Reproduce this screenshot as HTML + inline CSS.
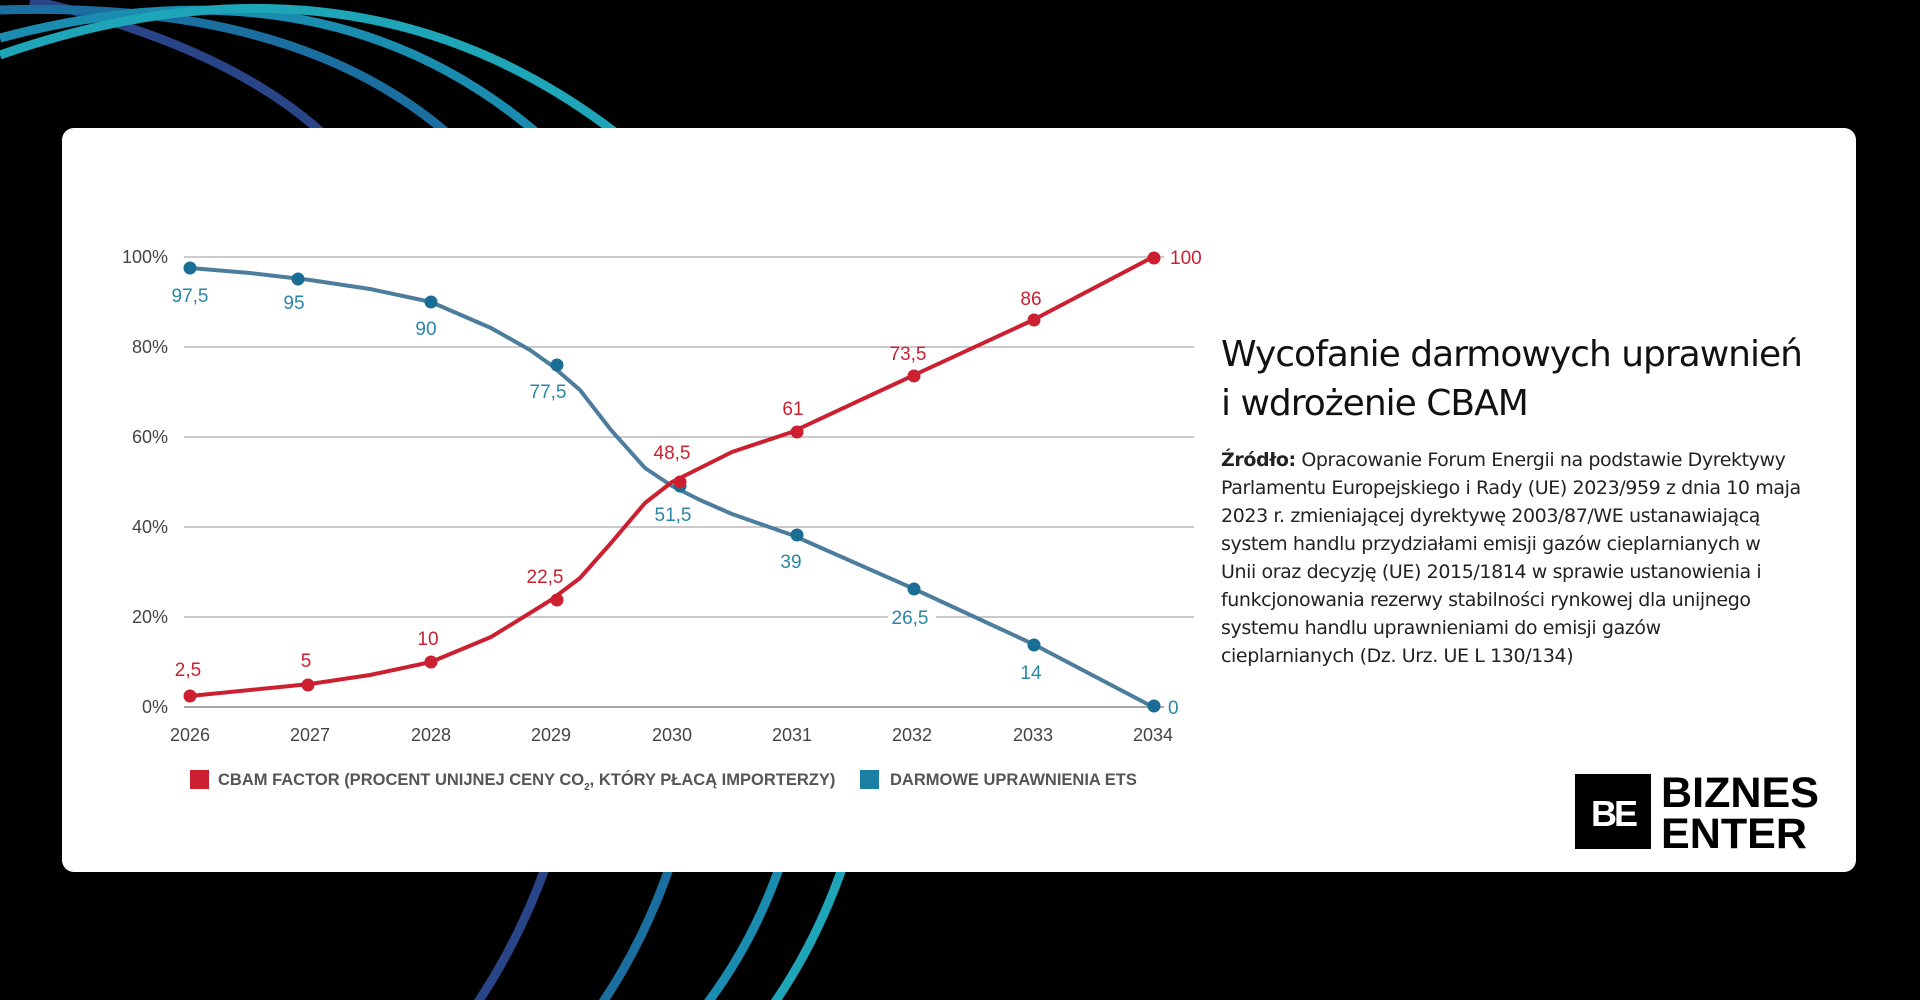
<!DOCTYPE html>
<html><head><meta charset="utf-8"><style>
html,body{margin:0;padding:0;background:#000;width:1920px;height:1000px;overflow:hidden;font-family:"Liberation Sans",sans-serif}
.card{position:absolute;left:62px;top:128px;width:1794px;height:744px;background:#fff;border-radius:12px}
.t{position:absolute;left:1221px;top:330px;font-size:36px;line-height:49px;color:#111;font-family:"DejaVu Sans","Liberation Sans",sans-serif;font-weight:normal;letter-spacing:-1px}
.b{position:absolute;left:1221px;top:446px;white-space:nowrap;font-size:19px;line-height:28px;color:#222;font-family:"DejaVu Sans","Liberation Sans",sans-serif;letter-spacing:-0.4px}
</style></head><body>
<svg width="1920" height="1000" style="position:absolute;left:0;top:0" fill="none" stroke-width="9">
<path d="M30 0 Q230 45 330 140" stroke="#2a4488"/>
<path d="M0 10 Q300 0 455 140" stroke="#1a6fa0"/>
<path d="M0 38 Q330 -50 545 140" stroke="#1a8cb0"/>
<path d="M0 55 Q360 -70 625 140" stroke="#1ea6b8"/>
<path d="M548 860 Q520 940 476 1005" stroke="#2a4488"/>
<path d="M672 860 Q645 940 601 1005" stroke="#1a6fa0"/>
<path d="M782 860 Q755 940 706 1005" stroke="#1a8cb0"/>
<path d="M845 860 Q818 940 773 1005" stroke="#1ea6b8"/>
</svg>
<div class="card"></div>
<svg width="1920" height="1000" style="position:absolute;left:0;top:0" font-family="Liberation Sans,sans-serif">
<g stroke="#aaa" stroke-width="1.2">
<line x1="184" x2="1194" y1="257" y2="257"/><line x1="184" x2="1194" y1="347" y2="347"/>
<line x1="184" x2="1194" y1="437" y2="437"/><line x1="184" x2="1194" y1="527" y2="527"/>
<line x1="184" x2="1194" y1="617" y2="617"/><line x1="184" x2="1194" y1="707" y2="707" stroke="#888" stroke-width="1.6"/>
</g>
<g font-size="18" fill="#444" text-anchor="end">
<text x="168" y="263">100%</text><text x="168" y="353">80%</text><text x="168" y="443">60%</text>
<text x="168" y="533">40%</text><text x="168" y="623">20%</text><text x="168" y="713">0%</text>
</g>
<g font-size="18" fill="#444" text-anchor="middle">
<text x="190" y="741">2026</text><text x="310" y="741">2027</text><text x="431" y="741">2028</text>
<text x="551" y="741">2029</text><text x="672" y="741">2030</text><text x="792" y="741">2031</text>
<text x="912" y="741">2032</text><text x="1033" y="741">2033</text><text x="1153" y="741">2034</text>
</g>
<polyline fill="none" stroke="#4d7d9c" stroke-width="4" stroke-linejoin="round" points="190,268 250,273 310,280 370,289 431,302 491,328 530,350 551,365 580,390 611,430 645,468 672,486 700,500 732,514 792,535 912,588 1033,644 1153,707"/>
<polyline fill="none" stroke="#cc1f30" stroke-width="4" stroke-linejoin="round" points="190,696 310,684 370,675 431,662 491,637 530,613 551,600 580,578 611,543 645,503 672,482 700,468 732,452 792,432 912,376 1033,320 1153,257"/>
<g fill="#1a6e96"><circle cx="190" cy="268" r="6.5"/><circle cx="298" cy="279" r="6.5"/><circle cx="431" cy="302" r="6.5"/><circle cx="557" cy="365" r="6.5"/><circle cx="680" cy="486" r="6.5"/><circle cx="797" cy="535" r="6.5"/><circle cx="914" cy="589" r="6.5"/><circle cx="1034" cy="645" r="6.5"/><circle cx="1154" cy="706" r="6.5"/></g>
<g fill="#cc1f30"><circle cx="190" cy="696" r="6.5"/><circle cx="308" cy="685" r="6.5"/><circle cx="431" cy="662" r="6.5"/><circle cx="557" cy="600" r="6.5"/><circle cx="680" cy="482" r="6.5"/><circle cx="797" cy="432" r="6.5"/><circle cx="914" cy="376" r="6.5"/><circle cx="1034" cy="320" r="6.5"/><circle cx="1154" cy="258" r="6.5"/></g>
<rect x="888" y="605" width="48" height="22" fill="#fff"/>
<rect x="1164" y="245" width="40" height="24" fill="#fff"/>
<rect x="1164" y="695" width="30" height="24" fill="#fff"/>
<g font-size="19" fill="#cc1f30" text-anchor="middle">
<text x="188" y="676">2,5</text><text x="306" y="667">5</text><text x="428" y="645">10</text>
<text x="545" y="583">22,5</text><text x="672" y="459">48,5</text><text x="793" y="415">61</text>
<text x="908" y="360">73,5</text><text x="1031" y="305">86</text><text x="1170" y="264" text-anchor="start">100</text>
</g>
<g font-size="19" fill="#2a86a6" text-anchor="middle">
<text x="190" y="302">97,5</text><text x="294" y="309">95</text><text x="426" y="335">90</text>
<text x="548" y="398">77,5</text><text x="673" y="521">51,5</text><text x="791" y="568">39</text>
<text x="910" y="624">26,5</text><text x="1031" y="679">14</text><text x="1168" y="714" text-anchor="start">0</text>
</g>
<rect x="190" y="770" width="19" height="19" fill="#cc1f30"/>
<rect x="860" y="770" width="19" height="19" fill="#1a7fa3"/>
<g font-size="16.5" font-weight="bold" fill="#555">
<text x="218" y="785">CBAM FACTOR (PROCENT UNIJNEJ CENY CO<tspan font-size="10" dy="5">2</tspan><tspan dy="-5">, KTÓRY PŁACĄ IMPORTERZY)</tspan></text>
<text x="890" y="785">DARMOWE UPRAWNIENIA ETS</text>
</g>
<rect x="1575" y="774" width="76" height="75" fill="#000"/>
<text x="1613" y="826" font-size="36" font-weight="bold" fill="#fff" text-anchor="middle" letter-spacing="-3">BE</text>
<g font-size="43" font-weight="bold" fill="#000"><text x="1661" y="807" textLength="158" lengthAdjust="spacingAndGlyphs">BIZNES</text><text x="1661" y="848" textLength="146" lengthAdjust="spacingAndGlyphs">ENTER</text></g>
</svg>
<div class="t">Wycofanie darmowych uprawnień<br>i wdrożenie CBAM</div>
<div class="b"><b>Źródło:</b> Opracowanie Forum Energii na podstawie Dyrektywy<br>Parlamentu Europejskiego i Rady (UE) 2023/959 z dnia 10 maja<br>2023 r. zmieniającej dyrektywę 2003/87/WE ustanawiającą<br>system handlu przydziałami emisji gazów cieplarnianych w<br>Unii oraz decyzję (UE) 2015/1814 w sprawie ustanowienia i<br>funkcjonowania rezerwy stabilności rynkowej dla unijnego<br>systemu handlu uprawnieniami do emisji gazów<br>cieplarnianych (Dz. Urz. UE L 130/134)</div>
</body></html>
